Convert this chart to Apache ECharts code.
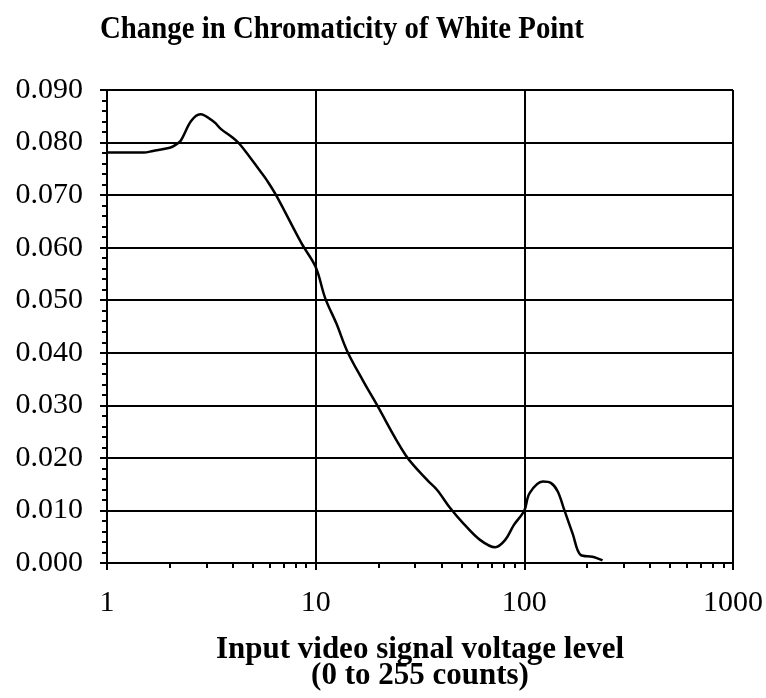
<!DOCTYPE html>
<html>
<head>
<meta charset="utf-8">
<script src="https://cdn.jsdelivr.net/npm/echarts@6/dist/echarts.min.js"></script>
<style>
  html, body { margin: 0; padding: 0; background: #fff; }
  #chart { width: 766px; height: 698px; }
</style>
</head>
<body>
<div id="chart"></div>
<script>
// input level (counts) and white point chromaticity change
const levels = [1, 1.5, 1.66, 2.0, 2.14, 2.26, 2.53, 2.8, 3.26, 3.51, 3.98, 4.37, 5.53, 5.84, 6.5, 8.56, 10,
  11.13, 12.56, 14.2, 16.8, 19.45, 27.0, 34.2, 38.2, 44.2, 51.1, 61.3, 72.5, 81, 89, 100,
  106, 122.7, 134.4, 144.6, 155.4, 170.4, 186.6, 212, 237]
const chroma = [0.0781, 0.0781, 0.0784, 0.0790, 0.0796, 0.0804, 0.0841, 0.0854, 0.0839, 0.0826, 0.0810, 0.0795, 0.0741, 0.0728, 0.0698, 0.0608, 0.0563,
  0.0503, 0.0456, 0.0402, 0.0348, 0.0304, 0.0205, 0.0158, 0.0139, 0.0104, 0.0075, 0.0044, 0.0030, 0.0044, 0.0072, 0.0100,
  0.0133, 0.0155, 0.0152, 0.0136, 0.0101, 0.0056, 0.0015, 0.0012, 0.0005]

// minor ticks of the log axis (2..9 in each decade)
const minorTickValues = [2, 3, 4, 5, 6, 7, 8, 9, 20, 30, 40, 50, 60, 70, 80, 90, 200, 300, 400, 500, 600, 700, 800, 900]

const fontFamily = '"Liberation Serif", "Times New Roman", serif'
const gridBox = { left: 107, right: 33, top: 90, bottom: 135 }

const chart = echarts.init(document.getElementById('chart'))

const option = {
  backgroundColor: '#fff',
  animation: false,
  // title drawn as a slightly condensed text, like the original
  graphic: [{
    type: 'text',
    x: 100,
    y: 14,
    scaleX: 0.93,
    style: {
      text: 'Change in Chromaticity of White Point',
      font: 'bold 31px "Liberation Serif", "Times New Roman", serif',
      fill: '#000',
      verticalAlign: 'top'
    }
  }],
  grid: [
    { ...gridBox, containLabel: false },
    { ...gridBox, containLabel: false }
  ],
  xAxis: [
    {
      type: 'log',
      logBase: 10,
      min: 1,
      max: 1000,
      gridIndex: 0,
      name: 'Input video signal voltage level\n(0 to 255 counts)',
      nameLocation: 'middle',
      nameGap: 74,
      nameTextStyle: { fontFamily, fontSize: 31, fontWeight: 'bold', color: '#000', lineHeight: 26 },
      axisLine: { show: true, lineStyle: { color: '#000', width: 2 } },
      axisTick: { show: true, length: 7, lineStyle: { color: '#000', width: 2 } },
      axisLabel: { fontFamily, fontSize: 30, color: '#000', margin: 25, formatter: v => String(v) },
      splitLine: { show: true, lineStyle: { color: '#000', width: 2 } },
      minorTick: { show: false }
    },
    {
      type: 'value',
      gridIndex: 1,
      min: 0,
      max: 3,
      position: 'bottom',
      axisLine: { show: false },
      axisTick: {
        show: true,
        length: 5,
        customValues: minorTickValues.map(v => Math.log10(v)),
        lineStyle: { color: '#000', width: 2 }
      },
      axisLabel: { show: false },
      splitLine: { show: false }
    }
  ],
  yAxis: [
    {
      type: 'value',
      gridIndex: 0,
      min: 0,
      max: 0.09,
      interval: 0.01,
      axisLine: { show: true, lineStyle: { color: '#000', width: 2 } },
      axisTick: { show: true, length: 7, lineStyle: { color: '#000', width: 2 } },
      minorTick: { show: true, splitNumber: 5, length: 5, lineStyle: { color: '#000', width: 2 } },
      axisLabel: {
        fontFamily, fontSize: 30, color: '#000', margin: 24,
        formatter: v => v.toFixed(3)
      },
      splitLine: { show: true, lineStyle: { color: '#000', width: 2 } }
    },
    {
      type: 'value',
      gridIndex: 1,
      min: 0,
      max: 1,
      show: false
    }
  ],
  series: [{
    type: 'line',
    xAxisIndex: 0,
    yAxisIndex: 0,
    data: levels.map((x, i) => [x, chroma[i]]),
    showSymbol: false,
    smooth: 0.35,
    lineStyle: { color: '#000', width: 2.5 }
  }]
}

chart.setOption(option)
</script>
</body>
</html>
